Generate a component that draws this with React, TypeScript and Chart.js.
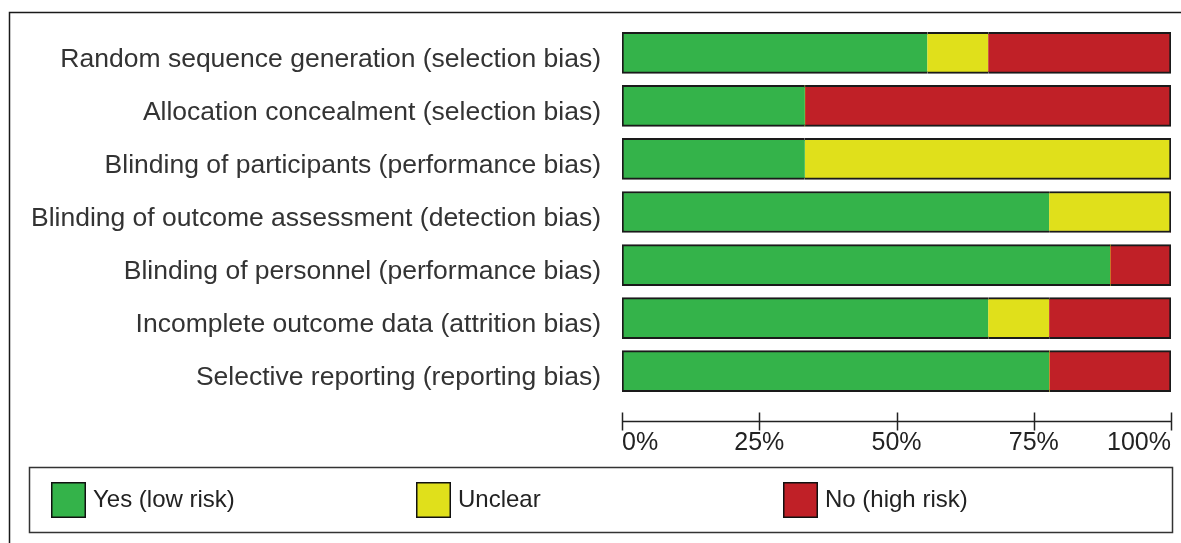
import React, { useEffect, useRef } from 'react';
import { Chart, registerables } from 'chart.js';

Chart.register(...registerables);

const categories = [
  'Random sequence generation (selection bias)',
  'Allocation concealment (selection bias)',
  'Blinding of participants (performance bias)',
  'Blinding of outcome assessment (detection bias)',
  'Blinding of personnel (performance bias)',
  'Incomplete outcome data (attrition bias)',
  'Selective reporting (reporting bias)',
];
const yesLowRisk = [55.6, 33.3, 33.3, 77.8, 88.9, 66.7, 77.8];
const unclearRisk = [11.1, 0, 66.7, 22.2, 0, 11.1, 0];
const noHighRisk = [33.3, 66.7, 0, 0, 11.1, 22.2, 22.2];
const seriesNames = ['Yes (low risk)', 'Unclear', 'No (high risk)'];
const seriesColors = ['#34b34a', '#e0e01b', '#c02027'];
const xTickValues = [0, 25, 50, 75, 100];
const xTickLabels = ['0%', '25%', '50%', '75%', '100%'];

const FONT = '"Liberation Sans", Arial, sans-serif';
const allSeries = [yesLowRisk, unclearRisk, noHighRisk];

const borderFor = (ctx: any) => {
  const i = ctx.dataIndex;
  const d = ctx.datasetIndex;
  if (i === undefined || d === undefined) return 0;
  const v = allSeries[d][i];
  if (!v) return 0;
  const first = allSeries.slice(0, d).every((s) => !s[i]);
  const last = allSeries.slice(d + 1).every((s) => !s[i]);
  return { top: 2, bottom: 2, left: first ? 2 : 0, right: last ? 2 : 0 };
};

const framePlugin = {
  id: 'framePlugin',
  afterDraw(chart: any) {
    const ctx = chart.ctx;
    const xs = chart.scales.x;
    const area = chart.chartArea;
    ctx.save();
    // outer frame (top and left edges)
    ctx.strokeStyle = '#1a1a1a';
    ctx.lineWidth = 1.5;
    ctx.beginPath();
    ctx.moveTo(9.5, 543);
    ctx.lineTo(9.5, 12.5);
    ctx.lineTo(1181, 12.5);
    ctx.stroke();

    // x axis line with ticks
    const axisY = Math.round(area.bottom + 23) + 0.5;
    ctx.strokeStyle = '#222';
    ctx.lineWidth = 1.5;
    ctx.beginPath();
    ctx.moveTo(xs.getPixelForValue(0), axisY);
    ctx.lineTo(xs.getPixelForValue(100), axisY);
    xTickValues.forEach((v) => {
      const px = Math.round(xs.getPixelForValue(v)) + 0.5;
      ctx.moveTo(px, axisY - 9);
      ctx.lineTo(px, axisY + 9);
    });
    ctx.stroke();

    // legend box
    ctx.strokeStyle = '#333';
    ctx.lineWidth = 1.5;
    ctx.strokeRect(29.5, 467.5, 1143, 65);
    const itemX = [51, 416, 783];
    seriesNames.forEach((name, k) => {
      const x = itemX[k];
      ctx.fillStyle = seriesColors[k];
      ctx.fillRect(x, 482, 35, 36);
      ctx.strokeStyle = '#111';
      ctx.lineWidth = 1.5;
      ctx.strokeRect(x + 0.75, 482.75, 33.5, 34.5);
      ctx.fillStyle = '#222';
      ctx.font = `24px ${FONT}`;
      ctx.textAlign = 'left';
      ctx.textBaseline = 'middle';
      ctx.fillText(name, x + 42, 500);
    });
    ctx.restore();
  },
};

export default function App() {
  const ref = useRef<HTMLCanvasElement | null>(null);
  useEffect(() => {
    if (!ref.current) return;
    const chart = new Chart(ref.current, {
      type: 'bar',
      data: {
        labels: categories,
        datasets: allSeries.map((s, k) => ({
          label: seriesNames[k],
          data: s,
          backgroundColor: seriesColors[k],
          borderColor: '#1a1a1a',
          borderWidth: borderFor,
          borderSkipped: false,
          barThickness: 41,
        })),
      },
      options: {
        indexAxis: 'y',
        responsive: false,
        animation: false,
        layout: { padding: { top: 26.3, right: 10, bottom: 65.3, left: 0 } },
        plugins: { legend: { display: false }, tooltip: { enabled: false } },
        scales: {
          x: {
            stacked: true,
            min: 0,
            max: 100,
            afterFit: (scale: any) => {
              scale.height = 80;
              scale.paddingLeft = 0;
              scale.paddingRight = 0;
              scale.paddingTop = 0;
              scale.paddingBottom = 0;
            },
            afterBuildTicks: (scale: any) => {
              scale.ticks = xTickValues.map((v) => ({ value: v }));
            },
            grid: { display: false, drawTicks: false },
            border: { display: false },
            ticks: {
              align: 'inner',
              padding: 30,
              autoSkip: false,
              maxRotation: 0,
              color: '#222',
              font: { family: FONT, size: 25 },
              callback: (_v: any, i: number) => xTickLabels[i],
            },
          },
          y: {
            stacked: true,
            afterFit: (scale: any) => {
              scale.width = 622;
              scale.paddingLeft = 0;
              scale.paddingRight = 0;
              scale.paddingTop = 0;
              scale.paddingBottom = 0;
            },
            grid: { display: false, drawTicks: false },
            border: { display: false },
            ticks: {
              padding: 21,
              labelOffset: 7,
              color: '#333',
              font: { family: FONT, size: 26.5 },
            },
          },
        },
      },
      plugins: [framePlugin],
    });
    return () => chart.destroy();
  }, []);
  return (
    <div style={{ position: 'absolute', left: 0, top: 0, width: 1181, height: 543, background: '#fff' }}>
      <canvas ref={ref} width={1181} height={543} style={{ display: 'block' }} />
    </div>
  );
}
